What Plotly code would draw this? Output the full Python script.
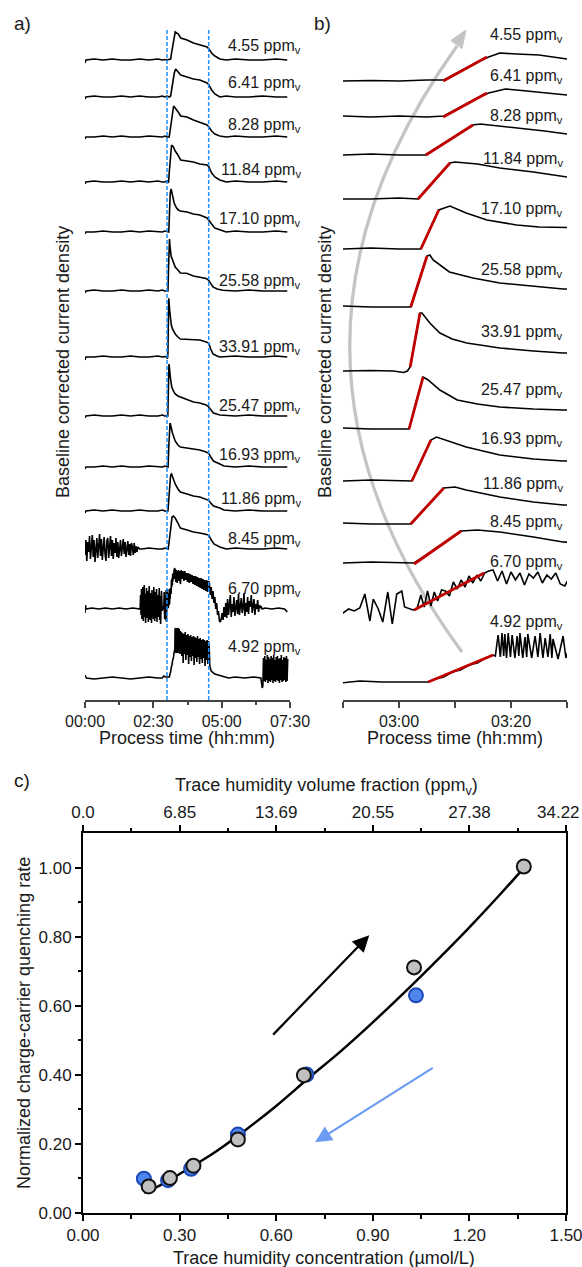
import plotly.graph_objects as go

W, H = 582, 1267

# ====================================================================== DATA
# Panels a / b : process time (minutes), baseline-corrected current density (a.u.)
LABELS = ["4.55", "6.41", "8.28", "11.84", "17.10", "25.58", "33.91",
          "25.47", "16.93", "11.86", "8.45", "6.70", "4.92"]

T1 = [0, 2, 20, 40, 60, 80, 100, 120, 140, 160, 170, 175, 180, 185, 188, 190, 192, 194, 196, 198,
      201, 205, 210, 224, 238, 252, 268, 272, 278, 285, 296, 310, 330, 360, 390, 420, 444]
V1 = [-3, 0, 1, 0, 1, 0, 0, 1, 0, 1, 0, 0.5, 0, 1, 1, 7, 13, 19, 24, 28,
      27, 26, 22, 20, 17, 15, 13, 11, 7, 4, 1, 0, 1, 0, 0, 1, 0]

T2 = [0, 2, 20, 40, 60, 80, 100, 120, 140, 160, 170, 175, 180, 185, 188, 190, 192, 194, 196, 199,
      201, 205, 210, 224, 238, 252, 268, 272, 278, 285, 296, 310, 330, 360, 390, 420, 444]
V2 = [-2, 0, 1, 0, 0, 1, 0, 1, 0, 0, 1, 0, 1, 0, 1, 7, 13, 19, 24, 28,
      27, 25, 22, 20, 18, 17, 14, 12, 7, 3, 0, 1, 0, 0, 1, 0, 0]

T3 = [0, 2, 20, 40, 60, 80, 100, 120, 140, 160, 170, 175, 180, 184.8, 187, 189, 191, 193.2, 194.5, 198,
      202, 206, 210, 224, 238, 252, 268, 272, 278, 285, 296, 310, 330, 360, 390, 420, 444]
V3 = [-2, 0, 0, 1, 0, 1, 0, 0, 1, 0, 0, 1, 0, 0, 8, 15, 22, 30, 31, 29,
      27, 24, 21, 20, 17, 15, 12, 10, 6, 3, 1, 0, 1, 0, 0, 1, 0]

T4 = [0, 2, 20, 40, 60, 80, 100, 120, 140, 160, 170, 175, 180, 183.4, 185, 187, 189.1, 190, 194, 198,
      204, 210, 224, 238, 252, 268, 272, 278, 285, 296, 310, 330, 360, 390, 420, 444]
V4 = [-2, 0, 1, 0, 0, 1, 0, 1, 0, 1, 0, 0, 1, 0, 10, 23, 36, 37, 35, 31,
      27, 22, 21, 20, 18, 17, 15, 9, 5, 2, 0, 1, 0, 0, 1, 0]

T5 = [0, 2, 20, 40, 60, 80, 100, 120, 140, 160, 170, 175, 180, 183.9, 185.5, 187.1, 189.1, 192, 195.7, 201,
      205, 209.3, 224, 238, 252, 268, 272, 278, 285, 296, 310, 330, 360, 390, 420, 444]
V5 = [-2, 0, 0, 1, 0, 0, 1, 0, 1, 0, 0, 1, 0, 0, 20, 39, 43, 36, 29, 24,
      22, 21, 20, 18, 17, 14, 12, 8, 4, 2, 0, 1, 0, 0, 1, 0]

T6 = [0, 2, 20, 40, 60, 80, 100, 120, 140, 160, 170, 175, 180, 182.1, 183.5, 185, 185.5, 186.1, 189, 193.2,
      198, 204, 209.3, 223, 238, 252, 266, 271, 276, 281, 290, 303, 330, 360, 390, 420, 444]
V6 = [-2, 0, 1, 0, 0, 1, 0, 0, 1, 0, 1, 0, 0, 0, 25, 51, 52, 47, 35, 29,
      24, 21, 18, 17.7, 15, 13.7, 12.5, 11, 7, 4, 2, 0.7, 0, 1, 0, 0, 0]

T7 = [0, 2, 20, 40, 60, 80, 100, 120, 140, 160, 170, 175, 179, 180.8, 181.5, 182, 183.75, 184.1, 185.5, 187.3,
      189.5, 192.1, 198, 204, 209.3, 230, 252, 266, 271.5, 276, 281, 290, 296, 330, 360, 390, 420, 444]
V7 = [-3, 0, 0, 1, 0, 0, 1, 0, 0, 1, 0, 0.5, 0, -1.5, 0, 4, 58, 58, 48, 38,
      32, 28, 23, 20, 18, 17.5, 17, 15, 14, 8, 3, 1, 0, 1, 0, 0, 1, 0]

T8 = [0, 2, 20, 40, 60, 80, 100, 120, 140, 160, 170, 175, 180, 181.8, 183, 184.3, 185.2, 187.3, 190.4, 194,
      198, 204, 209.3, 224, 238, 252, 266, 271.5, 276, 282, 296, 330, 360, 390, 420, 444]
V8 = [-2, 0, 1, 0, 0, 1, 0, 1, 0, 0, 1, 0, 0, 0, 26, 52, 49, 39, 29, 25,
      22, 20, 19, 16, 14, 13, 11, 9, 6, 3, 1, 0, 1, 0, 0, 0]

T9 = [0, 2, 20, 40, 60, 80, 100, 120, 140, 160, 170, 175, 180, 182.3, 184, 185.7, 186.7, 189, 192, 198,
      204, 209.3, 224, 238, 252, 266, 271.5, 276, 282, 296, 305, 330, 360, 390, 420, 444]
V9 = [-2, 0, 0, 1, 0, 1, 0, 0, 1, 0, 0, 1, 0, 0, 21, 41, 44, 40, 34, 26,
      22, 20, 19, 18, 17, 15, 13.7, 10, 6, 3, 1, 0, 1, 0, 0, 0]

T10 = [0, 2, 20, 40, 60, 80, 100, 120, 140, 160, 170, 175, 180, 182.1, 185, 188, 190, 192, 198, 204,
       209.3, 224, 238, 252, 266, 271.5, 276, 282, 296, 305, 330, 360, 390, 420, 444]
V10 = [-2, 0, 1, 0, 1, 0, 0, 1, 0, 0, 1, 0, 0, 0, 18, 36, 37, 34, 27, 22,
       19, 17, 15, 14, 12, 10.7, 8, 5, 3, 1, 0, 1, 0, 0, 0]

# 8.45 ppmv: noisy start (samples every 2 min from 0 to 120 min), then clean response
N11 = [-6, 9, -12, 7, -3, 13, -10, 4, 14, -8, 9, -13, 5, 11, -9, 2, 15, -7, 10, -11,
       4, 12, -5, -12, 8, 11, -9, 3, 13, -7, 9, -10, 6, -4, 11, -8, 7, -9, 4, 9,
       -7, 2, 10, -5, 7, -8, 3, 8, -6, 5, -7, 6, 2, -6, 6, -4, 3, -3, 2, 1, 0]
T11b = [125, 140, 160, 170, 175, 180, 182.7, 187, 191.1, 194, 198, 204, 209.3, 224, 238,
        252, 266, 271.5, 276, 283, 296, 310, 330, 360, 390, 420, 444]
V11b = [0, 1, 0, 0, 1, 0, 0, 16, 32, 33, 31, 26, 21, 19, 17,
        16, 15, 14, 10, 5, 2, 0, 1, 0, 0, 1, 0]

# 6.70 ppmv: noisy trace
T12a = [0, 1, 2, 15, 30, 45, 60, 75, 90, 105, 118]
V12a = [-4, 4, 0, 1, 0, 1, 0, 1, 0, 1, 0]
N12a = [0, 14, -6, 20, -10, 3, 22, -12, 8, 24, -8, 15, -14, 5, 21, -9, 2, 18, -13, 10,
        23, -6, -11, 16, 4, -14, 19, -7, 12, -10, 22, 0, -12, 17, 6, -9, 20, -13, 9, 14,
        -8, 3, 21, -11, 13, -15, 7, 18, 3, -2, 2, 0, 3]          # every 1 min from 121
T12c = [173.9, 174.8, 175.4, 176.3, 177.1, 178, 178.8, 179.6, 180.5, 181, 182.5]
V12c = [17, -10, 12, 2, -11, 19, -13, 17, 20, 4, 1]
T12d = [183.2, 183.9, 184.5, 185.1, 185.7, 186.3, 186.9, 187.6, 188.3, 189, 189.7, 190.4,
        191.1, 191.8, 192.5, 193.2, 193.9, 194.6, 195.3]
V12d = [2, 16, 4, 20, 5, 19, 10, 21, 20, 15, 29, 22, 31, 24, 35, 28, 36, 30, 38]
T12e = [196, 196.8, 197.6, 198.4, 199.2, 200, 200.8, 201.6, 202.4, 203.2, 204, 204.8,
        205.6, 206.4, 207.2, 208, 208.8, 209.6]
V12e = [40, 41, 30, 40, 27, 39, 31, 38, 26, 37, 33, 39, 28, 36, 32, 38, 27, 25]
V12f = [39, 30, 38, 28, 38, 29, 36, 27, 36, 26, 35, 27, 34, 25, 33, 24, 33, 23, 32, 22,
        31, 21, 31, 20, 30, 19, 29, 18, 29, 17, 28]              # every 2 min from 211
T12g = [273, 275, 277, 279, 281, 283, 285, 287, 289, 291, 293, 295, 297]
V12g = [26, 14, 22, 10, 18, 6, 12, 0, 6, -6, -2, -12, -13]
N12h = [-10, -4, -11, 2, -8, 6, -9, 10, -6, 3, 14, -8, 5, -3, 12, -7, 2, 9, -5, 15,
        -6, 4, 11, -4, 1, 16, -7, 6, -3, 12, -5, 8, 2, 14, -4, 3, 10, -6, 5, 0,
        9, -3, 4, 1, 2, 0]                                        # every 2 min from 299
T12i = [395, 410, 425, 438, 444]
V12i = [1, 0, 1, 0, -3]

# 4.92 ppmv: spiky trace
T13a = [0, 3, 20, 40, 60, 80, 100, 120, 140, 160, 169.5, 173, 177, 181, 185.2]
V13a = [3, 0, -1, 0, 1, 0, -1, 0, 1, 0, 0, 2, 1, 1, 1]
T13b = [186.5, 188, 189.5, 191, 192.5, 194, 195.5, 196.8]
V13b = [4, 6, 11, 13, 18, 20, 25, 28]
T13c = [197.2, 197.7, 198.1, 198.4, 198.7, 198.9, 199.2, 199.5, 199.9, 200.2, 200.7, 201.1,
        201.4, 201.6, 202.1, 202.5, 202.8, 203, 203.7, 204.3, 204.8, 205.2, 205.7, 206.1,
        206.6, 207, 207.3, 207.5, 208.4, 209.3, 209.8]
V13c = [27, 48, 26, 50, 27, 49, 25, 50, 26, 48, 25, 47, 27, 50, 25, 46, 26, 49, 25, 47,
        26, 50, 25, 45, 26, 49, 25, 44, 24, 47, 25]
V13d = [46, 22, 45, 15, 44, 24, 46, 18, 43, 23, 44, 14, 42, 21, 43, 17, 41, 22, 42, 13,
        41, 20, 40, 16, 42, 21, 39, 14, 40, 19, 38, 15, 39, 20, 38, 12, 37, 18, 38, 14, 37]  # every 1.5 min from 211
T13e = [272.5, 274, 277, 285, 300, 315, 330, 350, 370, 386]
V13e = [32, 12, 7, 4, 2, 0, 1, 0, 1, 0]
V13f = [-10, -8, 20, -3, 22, -4, 18, -2, 23, -5, 21, -3, 19, -4, 22, -2, 20, -5, 23, -3,
        18, -4, 21, -2, 22, -3, 19, -5, 20, -2, 23, -4, 18, -3, 21, -2, 20, -4, 22, -3, 19]  # every 1.4 min from 389

# linear fits of the initial response (panel b), per trace: start/end time and value
RED_T0 = [187.9, 187.9, 184.8, 183.4, 183.9, 182.1, 182.0, 181.8, 182.3, 182.1, 182.7, 182.7, 185.2]
RED_V0 = [0, 0, 0, 0, 0, 0, 4, 0, 0, 0, -1, 1, 1]
RED_T1 = [195.7, 195.7, 193.2, 189.1, 187.1, 185.0, 183.75, 184.3, 185.7, 188.0, 191.1, 195.2, 196.8]
RED_V1 = [24, 24, 30, 36, 39, 51, 58, 52, 41, 36, 32, 38, 28]

DASH_T = [180, 271.5]          # humidity switch on / off (min)

A_TICKS = [0, 150, 300, 450]
A_TICKTEXT = ["00:00", "02:30", "05:00", "07:30"]
A_MINOR = [75, 225, 375]
B_TICKS = [180, 200]
B_TICKTEXT = ["03:00", "03:20"]
B_MINOR = [170, 190, 210]

# Panel c
CONC_UP = [0.204, 0.270, 0.343, 0.481, 0.686, 1.028, 1.369]
RATE_UP = [0.077, 0.101, 0.137, 0.213, 0.399, 0.711, 1.003]
CONC_DOWN = [0.189, 0.264, 0.336, 0.481, 0.694, 1.034]
RATE_DOWN = [0.0995, 0.095, 0.128, 0.227, 0.401, 0.630]
FIT_X = [0.19, 0.25, 0.3, 0.4, 0.5, 0.6, 0.7, 0.8, 0.9, 1.0, 1.1, 1.2, 1.3, 1.37]
FIT_Y = [0.058, 0.085, 0.113, 0.17, 0.237, 0.31, 0.39, 0.468, 0.552, 0.64, 0.732, 0.827, 0.927, 1.0]
C_XTICKS = [0.0, 0.3, 0.6, 0.9, 1.2, 1.5]
C_XTEXT = ["0.00", "0.30", "0.60", "0.90", "1.20", "1.50"]
C_YTICKS = [0.0, 0.2, 0.4, 0.6, 0.8, 1.0]
C_YTEXT = ["0.00", "0.20", "0.40", "0.60", "0.80", "1.00"]
PPM_TICKS = [0.0, 6.85, 13.69, 20.55, 27.38, 34.22]
PPM_TEXT = ["0.0", "6.85", "13.69", "20.55", "27.38", "34.22"]


def grid(t0, dt, n):
    return [t0 + k * dt for k in range(n)]


TRACES = [
    (T1, V1), (T2, V2), (T3, V3), (T4, V4), (T5, V5), (T6, V6), (T7, V7),
    (T8, V8), (T9, V9), (T10, V10),
    (grid(0, 2, len(N11)) + T11b, N11 + V11b),
    (T12a + grid(121, 1, len(N12a)) + T12c + T12d + T12e + grid(211, 2, len(V12f)) + T12g
     + grid(299, 2, len(N12h)) + T12i,
     V12a + N12a + V12c + V12d + V12e + V12f + V12g + N12h + V12i),
    (T13a + T13b + T13c + grid(211, 1.5, len(V13d)) + T13e + grid(389, 1.4, len(V13f)),
     V13a + V13b + V13c + V13d + V13e + V13f),
]

# ================================================================== LAYOUT
FONT = "Liberation Sans, Arial, Helvetica, sans-serif"
INK = "#1a1a1a"
OFF_A = [640, 603, 563, 518, 468, 409, 343, 284, 233, 189, 151, 91, 22]
OFF_B = [619, 583, 545, 501, 451, 393, 329, 271, 219, 176, 137, 89, 17]
LAB_A_Y = [45, 81, 124, 169, 218, 279, 345, 404, 453, 498, 537, 587, 645]
LAB_B_Y = [34, 75, 114, 158, 207, 268, 330, 388, 438, 483, 520, 560, 620]


def px(x, y):
    return x / W, 1 - y / H


fig = go.Figure()

for i, (t, v) in enumerate(TRACES):
    fig.add_trace(go.Scatter(x=t, y=[val + OFF_A[i] for val in v], xaxis="x", yaxis="y",
                             mode="lines", line=dict(color="black", width=1.6),
                             hoverinfo="skip", showlegend=False))
    fig.add_trace(go.Scatter(x=t, y=[val + OFF_B[i] for val in v], xaxis="x2", yaxis="y2",
                             mode="lines", line=dict(color="black", width=1.6),
                             hoverinfo="skip", showlegend=False))
for i in range(len(RED_T0)):
    fig.add_trace(go.Scatter(x=[RED_T0[i], RED_T1[i]],
                             y=[RED_V0[i] + OFF_B[i], RED_V1[i] + OFF_B[i]],
                             xaxis="x2", yaxis="y2", mode="lines",
                             line=dict(color="#C00000", width=2.8),
                             hoverinfo="skip", showlegend=False))

# panel c
fig.add_trace(go.Scatter(x=FIT_X, y=FIT_Y, xaxis="x3", yaxis="y3", mode="lines",
                         line=dict(color="black", width=2.5, shape="spline"),
                         hoverinfo="skip", showlegend=False))
fig.add_trace(go.Scatter(x=CONC_DOWN, y=RATE_DOWN, xaxis="x3", yaxis="y3", mode="markers",
                         marker=dict(size=14, color="#4F86EE", line=dict(color="#1C48B8", width=2)),
                         showlegend=False))
fig.add_trace(go.Scatter(x=CONC_UP, y=RATE_UP, xaxis="x3", yaxis="y3", mode="markers",
                         marker=dict(size=14, color="#C0C0C0", line=dict(color="#111111", width=2)),
                         showlegend=False))
fig.add_trace(go.Scatter(x=[PPM_TICKS[0]], y=[None], xaxis="x4", yaxis="y3", mode="markers",
                         marker=dict(opacity=0), showlegend=False, hoverinfo="skip"))

ydomA = [1 - 700 / H, 1 - 20 / H]
axis_common = dict(showgrid=False, zeroline=False, showline=True, linecolor="#444444",
                   linewidth=1.5, ticks="outside", ticklen=6, tickwidth=1.5, tickcolor="#444444",
                   ticklabeloverflow="allow",
                   tickfont=dict(family=FONT, size=16, color=INK))

a_minor = dict(tickvals=A_MINOR, ticklen=3.5, ticks="outside", tickwidth=1.5, tickcolor="#444444")
b_minor = dict(tickvals=B_MINOR, ticklen=6, ticks="outside", tickwidth=1.5, tickcolor="#444444")

C_TICKFONT = 17
c_axis = dict(showgrid=False, zeroline=False, showline=True, linecolor="black", linewidth=2,
              ticks="outside", ticklen=6, tickwidth=1.8, tickcolor="black",
              ticklabeloverflow="allow",
              tickfont=dict(family=FONT, size=C_TICKFONT, color=INK))

ppm_minor = [(PPM_TICKS[k] + PPM_TICKS[k + 1]) / 2 for k in range(len(PPM_TICKS) - 1)]
cx_minor = [(C_XTICKS[k] + C_XTICKS[k + 1]) / 2 for k in range(len(C_XTICKS) - 1)]
cy_minor = [(C_YTICKS[k] + C_YTICKS[k + 1]) / 2 for k in range(len(C_YTICKS) - 1)]
# last top label sits at the page edge: draw it as a right-aligned text instead
ppm_text_axis = PPM_TEXT[:-1] + [""]

fig.update_layout(
    width=W, height=H, margin=dict(l=0, r=0, t=0, b=0, autoexpand=False),
    paper_bgcolor="white", plot_bgcolor="rgba(0,0,0,0)",
    font=dict(family=FONT, size=16, color=INK),
    showlegend=False,
    xaxis=dict(domain=[85 / W, 290 / W], range=[0, 450], anchor="y",
               tickmode="array", tickvals=A_TICKS, ticktext=A_TICKTEXT, minor=a_minor, **axis_common),
    yaxis=dict(domain=ydomA, range=[0, 680], anchor="x", visible=False),
    xaxis2=dict(domain=[343 / W, 567 / W], range=[170, 210], anchor="y2",
                tickmode="array", tickvals=B_TICKS, ticktext=B_TICKTEXT, minor=b_minor, **axis_common),
    yaxis2=dict(domain=ydomA, range=[0, 680], anchor="x2", visible=False),
    xaxis3=dict(domain=[83 / W, 566 / W], range=[0, 1.5], anchor="y3",
                tickmode="array", tickvals=C_XTICKS, ticktext=C_XTEXT,
                minor=dict(tickvals=cx_minor, ticklen=3.5, ticks="outside", tickwidth=1.8, tickcolor="black"),
                mirror=False, **c_axis),
    xaxis4=dict(overlaying="x3", side="top", anchor="y3", range=[0, 34.22],
                tickmode="array", tickvals=PPM_TICKS, ticktext=ppm_text_axis,
                minor=dict(tickvals=ppm_minor, ticklen=3.5, ticks="outside", tickwidth=1.8, tickcolor="black"),
                **c_axis),
    yaxis3=dict(domain=[1 - 1213 / H, 1 - 833 / H], range=[0, 1.1], anchor="x3",
                tickmode="array", tickvals=C_YTICKS, ticktext=C_YTEXT,
                minor=dict(tickvals=cy_minor, ticklen=3.5, ticks="outside", tickwidth=1.8, tickcolor="black"),
                mirror=True, **c_axis),
)

# dashed switch lines (panel a)
shapes = []
for tt in DASH_T:
    shapes.append(dict(type="line", xref="x", yref="paper", x0=tt, x1=tt,
                       y0=1 - 700 / H, y1=1 - 28 / H,
                       line=dict(color="#1E90FF", width=1.5, dash="4px,2px")))

# grey curved arrow (panel b)
p0, c0, p1 = px(462, 652), px(240, 350), px(457, 46)
shapes.append(dict(type="path", xref="paper", yref="paper", layer="below",
                   path=f"M {p0[0]},{p0[1]} Q {c0[0]},{c0[1]} {p1[0]},{p1[1]}",
                   line=dict(color="#C4C4C4", width=3.2)))
h0, h1, h2 = px(466, 30), px(462, 48.5), px(450.8, 40.5)
shapes.append(dict(type="path", xref="paper", yref="paper", layer="below",
                   path=f"M {h0[0]},{h0[1]} L {h1[0]},{h1[1]} L {h2[0]},{h2[1]} Z",
                   fillcolor="#C4C4C4", line=dict(color="#C4C4C4", width=1)))
fig.update_layout(shapes=shapes)

ann = []


def text(x, y, s, size, **kw):
    xx, yy = px(x, y)
    d = dict(x=xx, y=yy, xref="paper", yref="paper", text=s, showarrow=False,
             font=dict(family=FONT, size=size, color=INK))
    d.update(kw)
    ann.append(d)


for i, lab in enumerate(LABELS):
    text(303, LAB_A_Y[i] + 2, f"{lab} ppm<sub>v</sub>", 16, xanchor="right", yanchor="middle")
    text(565, LAB_B_Y[i] + 2, f"{lab} ppm<sub>v</sub>", 16, xanchor="right", yanchor="middle")

text(12, 23, "a)", 19, xanchor="left", yanchor="middle")
text(312, 23, "b)", 19, xanchor="left", yanchor="middle")
text(12, 780, "c)", 19, xanchor="left", yanchor="middle")

text(187, 738, "Process time (hh:mm)", 18, xanchor="center", yanchor="middle")
text(455, 738, "Process time (hh:mm)", 18, xanchor="center", yanchor="middle")
text(63, 362, "Baseline corrected current density", 18, textangle=-90, xanchor="center", yanchor="middle")
text(325, 362, "Baseline corrected current density", 18, textangle=-90, xanchor="center", yanchor="middle")

text(326, 787, "Trace humidity volume fraction (ppm<sub>v</sub>)", 18, xanchor="center", yanchor="middle")
text(324, 1258, "Trace humidity concentration (µmol/L)", 18, xanchor="center", yanchor="middle")
text(24, 1023, "Normalized charge-carrier quenching rate", 18, textangle=-90, xanchor="center", yanchor="middle")
text(581, 812, PPM_TEXT[-1], C_TICKFONT, xanchor="right", yanchor="middle", borderpad=0)

# direction arrows (panel c)
ann.append(dict(x=0.889, y=0.804, ax=0.586, ay=0.512, xref="x3", yref="y3", axref="x3", ayref="y3",
                text="", showarrow=True, arrowhead=2, arrowsize=1.5, arrowwidth=2.2, arrowcolor="black"))
ann.append(dict(x=0.721, y=0.205, ax=1.091, ay=0.423, xref="x3", yref="y3", axref="x3", ayref="y3",
                text="", showarrow=True, arrowhead=2, arrowsize=1.5, arrowwidth=2.2, arrowcolor="#6B9BF2"))

fig.update_layout(annotations=ann)

fig.write_html("out.html", config={"displayModeBar": False},
               post_script="document.body.style.margin='0px';document.body.style.overflow='hidden';")
